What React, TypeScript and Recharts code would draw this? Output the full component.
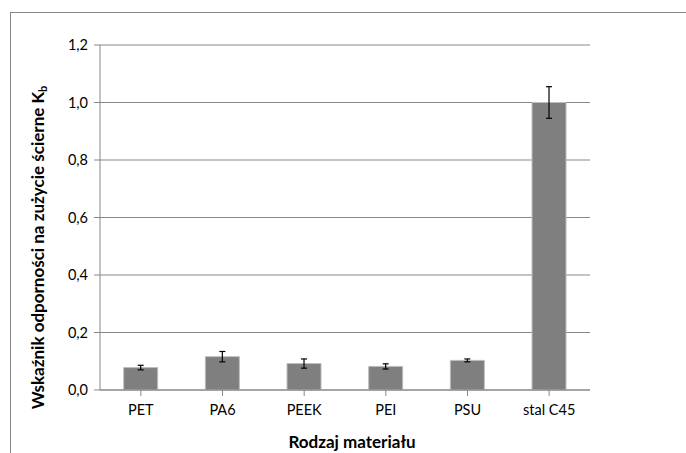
import React from 'react';
import { BarChart, Bar, XAxis, YAxis, CartesianGrid, ErrorBar, Label } from 'recharts';

const materials = ['PET', 'PA6', 'PEEK', 'PEI', 'PSU', 'stal C45'];
const kbValues = [0.078, 0.116, 0.092, 0.082, 0.103, 1.0];
const kbErrors = [0.008, 0.018, 0.016, 0.009, 0.005, 0.055];
const yTicks = [0, 0.2, 0.4, 0.6, 0.8, 1.0, 1.2];

const data = materials.map((name, i) => ({ name, kb: kbValues[i], err: kbErrors[i] }));

const FONT = 'Lato, "Open Sans", sans-serif';
const GRID = '#878787';

function YTitle(props: any) {
  const vb = props.viewBox || {};
  const cx = 37;
  const cy = vb.y + vb.height / 2 + 30;
  return (
    <text
      x={cx}
      y={cy}
      transform={`rotate(-90 ${cx} ${cy})`}
      textAnchor="middle"
      dominantBaseline="central"
      fontFamily={FONT}
      fontWeight={700}
      fontSize={17}
      fill="#000"
    >
      Wskaźnik odporności na zużycie ścierne K
      <tspan fontSize={11} dy={5}>b</tspan>
    </text>
  );
}

function XTitle() {
  return (
    <text x={352} y={441} textAnchor="middle" dominantBaseline="central" fontFamily={FONT} fontWeight={700} fontSize={17} fill="#000">
      Rodzaj materiału
    </text>
  );
}

export default function App() {
  return (
    <div style={{ position: 'absolute', left: 0, top: 0, width: 686, height: 453, background: '#fff', overflow: 'hidden' }}>
      <div style={{ position: 'absolute', left: 10, top: 12, width: 700, height: 460, borderTop: `1px solid ${GRID}`, borderLeft: `1px solid ${GRID}` }} />
      <BarChart
        width={686}
        height={453}
        data={data}
        margin={{ top: 45, right: 96, bottom: 33, left: 40 }}
        barCategoryGap="29%"
        style={{ position: 'absolute', left: 0, top: 0 }}
      >
        <CartesianGrid vertical={false} stroke={GRID} strokeWidth={1} />
        <XAxis
          dataKey="name"
          axisLine={{ stroke: GRID }}
          tickLine={{ stroke: GRID }}
          tickSize={6}
          tick={{ fill: '#000', fontSize: 14.5, fontFamily: FONT, dy: 7 }}
          interval={0}
          height={30}
        >
          <Label content={<XTitle />} />
        </XAxis>
        <YAxis
          domain={[0, 1.2]}
          ticks={yTicks}
          axisLine={{ stroke: GRID }}
          tickLine={{ stroke: GRID }}
          tickSize={6}
          width={60}
          tickFormatter={(v: number) => v.toFixed(1).replace('.', ',')}
          tick={{ fill: '#000', fontSize: 14.5, fontFamily: FONT, dx: -4 }}
        >
          <Label content={<YTitle />} />
        </YAxis>
        <Bar dataKey="kb" fill="#7f7f7f" stroke="#bdbdbd" strokeWidth={1} isAnimationActive={false}>
          <ErrorBar dataKey="err" width={3} stroke="#000" strokeWidth={1.2} direction="y" />
        </Bar>
      </BarChart>
    </div>
  );
}
